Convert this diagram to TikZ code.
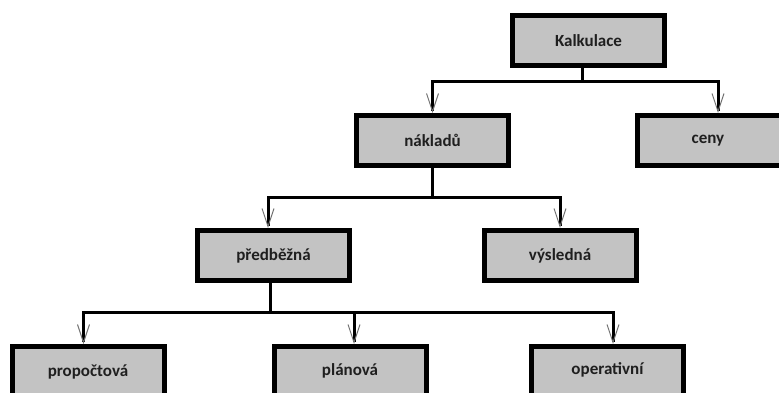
\documentclass[tikz,border=0pt]{standalone}
\usepackage{fontspec}
\setmainfont{Carlito}
\usetikzlibrary{arrows.meta}
\definecolor{boxgray}{HTML}{C3C3C3}
\tikzset{
  box/.style={draw=black, line width=5pt, fill=boxgray, minimum width=152pt, minimum height=50pt,
    inner sep=0pt, font=\bfseries\fontsize{17}{20}\selectfont, text=black!88},
  conn/.style={draw=black, line width=3pt, line join=miter},
  arr/.style={conn, -{Straight Barb[length=18pt, width=12pt, line width=1pt, color=black!55]}},
}
\begin{document}
\begin{tikzpicture}[x=1pt, y=-1pt]
\useasboundingbox (0,0) rectangle (779,392);
\begin{scope}
\clip (0,0) rectangle (779,392);
\node[box] (K) at (588.5,40.5) {Kalkulace};
\node[box] (N) at (432.5,140.5) {nákladů};
\node[box] (C) at (713.5,140.5) {\hspace*{-11pt}ceny};
\node[box] (P) at (273.5,255.5) {předběžná};
\node[box] (V) at (560,255.5) {výsledná};
\node[box] (A) at (88,371.5) {\raisebox{2pt}{propočtová}};
\node[box] (B) at (350,371.5) {\raisebox{4pt}{plánová}};
\node[box] (O) at (607.5,371.5) {\raisebox{6pt}{operativní}};

\coordinate (kb) at (582,81);
\coordinate (nb) at (432.5,197);
\coordinate (pb) at (270,312);

\draw[conn] (kb |- K.south) -- (kb);
\draw[arr] (kb) -| (N.north);
\draw[arr] (kb) -| ([xshift=4.5pt]C.north);

\draw[conn] (N.south) -- (nb);
\draw[arr] (nb) -| ([xshift=-164.5pt]N.south |- P.north);
\draw[arr] (nb) -| (V.north);

\draw[conn] (pb |- P.south) -- (pb);
\draw[arr] (pb) -| ([xshift=-4.5pt]A.north);
\draw[arr] (pb) -| ([xshift=4pt]B.north);
\draw[arr] (pb) -| ([xshift=5.5pt]O.north);
\end{scope}
\end{tikzpicture}
\end{document}
